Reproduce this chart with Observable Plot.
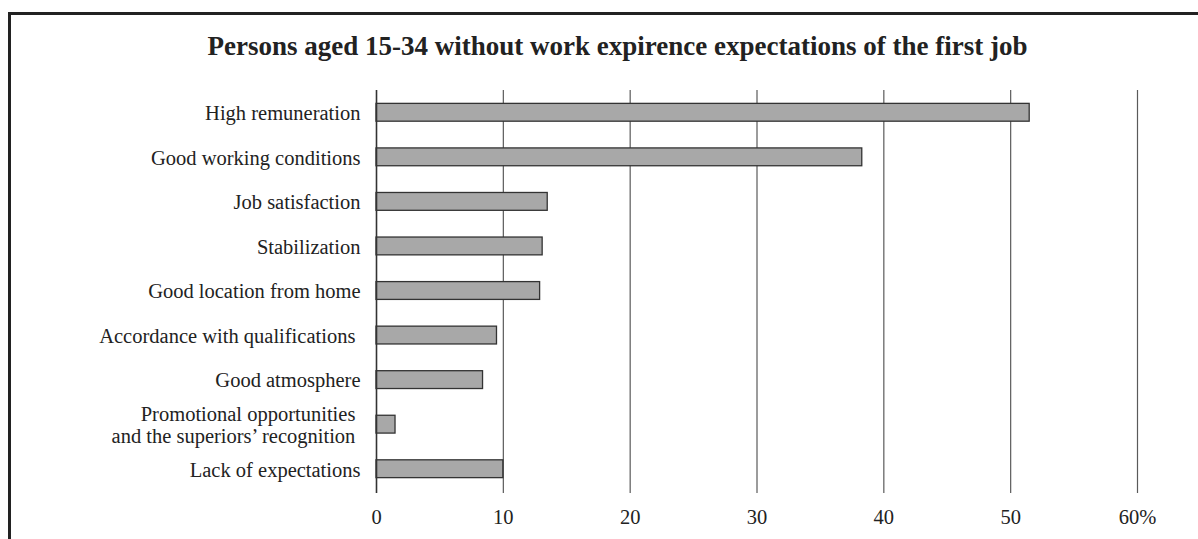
<!DOCTYPE html>
<html>
<head>
<meta charset="utf-8">
<script src="https://cdn.jsdelivr.net/npm/d3@7"></script>
<script src="https://cdn.jsdelivr.net/npm/@observablehq/plot@0.6"></script>
<style>
  html, body { margin: 0; padding: 0; background: #fff; overflow: hidden; width: 1198px; height: 539px; }
  #frame { position: absolute; left: 8px; top: 12px; width: 1400px; height: 800px;
           border-top: 3px solid #222; border-left: 3px solid #222; }
  #title { position: absolute; left: 0; top: 31px; width: 1235px; text-align: center; white-space: nowrap;
           font-family: "Liberation Serif", "Times New Roman", serif; font-weight: bold; font-size: 27px; line-height: 30px; color: #222; }
  #chart { position: absolute; left: 0; top: 70px; }
</style>
</head>
<body>
<div id="frame"></div>
<div id="title">Persons aged 15-34 without work expirence expectations of the first job</div>
<div id="chart"></div>
<script>
const categories = [
  "High remuneration",
  "Good working conditions",
  "Job satisfaction",
  "Stabilization",
  "Good location from home",
  "Accordance with qualifications\u00a0",
  "Good atmosphere",
  "Promotional opportunities\u00a0\nand the superiors’ recognition\u00a0",
  "Lack of expectations"
];
const values = [51.5, 38.3, 13.5, 13.1, 12.9, 9.5, 8.4, 1.5, 10.0];
const tickValues = [0, 10, 20, 30, 40, 50, 60];
const tickLabels = ["0", "10", "20", "30", "40", "50", "60%"];

const data = categories.map((c, i) => ({category: c, value: values[i]}));

const chart = Plot.plot({
  width: 1198,
  height: 469,
  marginLeft: 376,
  marginRight: 61,
  marginTop: 20,
  marginBottom: 48,
  style: {fontFamily: "'Liberation Serif', 'Times New Roman', serif", fontSize: "20.5px", color: "#222", background: "transparent"},
  x: {domain: [0, 60], ticks: tickValues, tickFormat: d => tickLabels[tickValues.indexOf(d)], tickSize: 0, tickPadding: 18, label: null},
  y: {domain: categories, paddingInner: 0.6, paddingOuter: 0.3, round: false, axis: null},
  marks: [
    Plot.ruleX(tickValues.slice(1), {stroke: "#5a5a5a", strokeWidth: 1.2, strokeOpacity: 1, insetBottom: -2}),
    Plot.barX(data, {x: "value", y: "category", fill: "#a8a8a8", stroke: "#333", strokeWidth: 1.3}),
    Plot.ruleX([0], {stroke: "#333", strokeWidth: 1.6, insetBottom: -2}),
    Plot.text(data, {x: 0, y: "category", text: "category", textAnchor: "end", dx: -16, fontSize: 20.5, lineHeight: 1.12, fill: "#222"})
  ]
});
document.getElementById("chart").appendChild(chart);
</script>
</body>
</html>
